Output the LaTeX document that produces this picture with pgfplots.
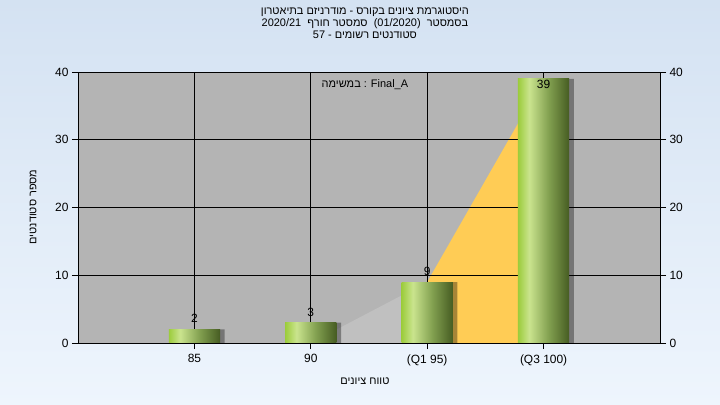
\documentclass[border=0pt]{standalone}
\usepackage{pgfplots}
\pgfplotsset{compat=1.18}
\usepackage{fontspec}
\setmainfont{Liberation Sans}
\newfontfamily\heb[Script=Hebrew]{Liberation Sans}
\TeXXeTstate=1
\definecolor{bgtop}{RGB}{212,226,242}
\definecolor{bgbot}{RGB}{238,245,253}
\definecolor{plotgray}{RGB}{180,180,180}
\definecolor{areagray}{RGB}{192,192,192}
\definecolor{areayel}{RGB}{255,204,85}
\definecolor{gA}{RGB}{156,204,60}
\definecolor{gB}{RGB}{202,228,142}
\definecolor{gC}{RGB}{130,160,80}
\definecolor{gD}{RGB}{70,92,34}
\pgfdeclarehorizontalshading{barshade}{100bp}{color(0bp)=(gA); color(25bp)=(gA); color(36bp)=(gB); color(55bp)=(gC); color(75bp)=(gD); color(100bp)=(gD)}
\pgfplotsset{
  base/.style={
    at={(78bp,62bp)}, anchor=south west,
    scale only axis, width=582bp, height=271bp,
    xmin=-1, xmax=4, ymin=0, ymax=40,
    /pgf/number format/assume math mode=true,
    ticklabel style={font=\fontsize{12}{14}\selectfont},
    tick align=outside, major tick length=6bp,
    axis line style={black, line width=0.8bp},
    tick style={black, line width=0.8bp},
  },
  bar/.style={ybar, bar width=0.44, bar shift=0, draw=none, shading=barshade,
    nodes near coords, nodes near coords style={anchor=south, yshift=3bp, font=\fontsize{12}{14}\selectfont, text=black}},
  shadow/.style={ybar, bar width=0.44, bar shift=0.04, fill=black, fill opacity=0.35, draw=none},
}
\begin{document}
\begin{tikzpicture}
\shade[top color=bgtop, bottom color=bgbot] (0,0) rectangle (720bp,405bp);
% background + areas
\begin{axis}[base, axis lines=none, axis background/.style={fill=plotgray}]
\addplot[fill=areagray, draw=none] coordinates {(1,0) (2,9)} \closedcycle;
\addplot[fill=areayel, draw=none] coordinates {(2,9) (3,39)} \closedcycle;
\end{axis}
% grid, left axis, bars
\begin{axis}[base,
  xtick={0,1,2,3}, xticklabels={85,90,(Q1 95),(Q3 100)},
  ytick={0,10,20,30,40},
  xtick pos=bottom, ytick pos=left,
  grid=major, grid style={black, line width=0.8bp},
  xticklabel style={yshift=-2bp},
  xlabel={\heb\beginR טווח ציונים\endR},
  xlabel style={at={(rel axis cs:0.493,-0.14)}, anchor=center, font=\fontsize{11}{13}\selectfont},
  ylabel={\heb\beginR מספר סטודנטים\endR},
  ylabel style={at={(rel axis cs:-0.0773,0.502)}, anchor=center, rotate=0, font=\fontsize{11}{13}\selectfont},
  title={\heb\beginR היסטוגרמת ציונים בקורס - מודרניזם בתיאטרון\endR\\
         2020/21 \ {\heb\beginR סמסטר חורף\endR} \ (01/2020) \ {\heb\beginR בסמסטר\endR}\\
         57 - {\heb\beginR סטודנטים רשומים\endR}},
  title style={at={(rel axis cs:0.493,1.159)}, anchor=center, align=center, font=\fontsize{11}{12}\selectfont},
]
\addplot[shadow] coordinates {(0,2) (1,3) (2,9) (3,39)};
\addplot[bar] coordinates {(0,2)};
\addplot[bar] coordinates {(1,3)};
\addplot[bar] coordinates {(2,9)};
\addplot[bar, nodes near coords style={anchor=north, yshift=-1bp}] coordinates {(3,39)};
\node[font=\fontsize{11}{13}\selectfont] at (rel axis cs:0.493,0.952) {{\heb\beginR במשימה\endR} : Final\_A};
\end{axis}
% right axis
\begin{axis}[base,
  axis x line=none, axis y line*=right,
  ytick={0,10,20,30,40},
]
\addplot[draw=none] coordinates {(0,0)};
\end{axis}
\end{tikzpicture}
\end{document}
